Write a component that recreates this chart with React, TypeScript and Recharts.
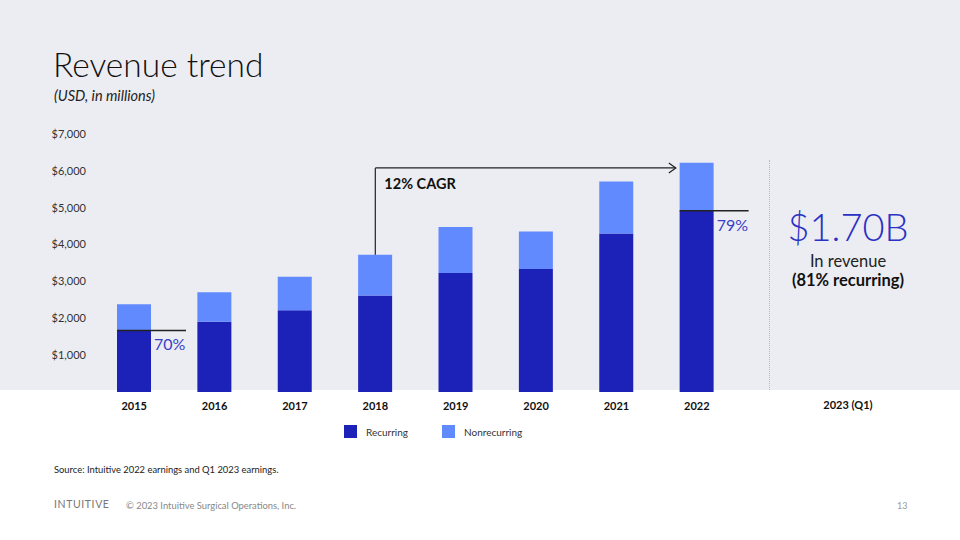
import { Bar, BarChart, LabelList, ReferenceLine, XAxis, YAxis } from 'recharts';

const years = ['2015', '2016', '2017', '2018', '2019', '2020', '2021', '2022'];
const recurring = [1669, 1906, 2217, 2620, 3230, 3340, 4300, 4915];
const nonrecurring = [715, 798, 912, 1104, 1249, 1018, 1410, 1307];
const shareLabels = ['70%', '', '', '', '', '', '', '79%'];
const yTicks = [1000, 2000, 3000, 4000, 5000, 6000, 7000];

const cagrFrom = '2018';
const cagrTo = '2022';
const cagrLevel = 6080;
const cagrText = '12% CAGR';

const data = years.map((year, i) => ({
  year,
  recurring: recurring[i],
  nonrecurring: nonrecurring[i],
  total: recurring[i] + nonrecurring[i],
  share: shareLabels[i],
}));

const DARK = '#1c22b8';
const LIGHT = '#628aff';
const ACCENT = '#3a3fc8';
const FONT = 'Lato, "Noto Sans", sans-serif';
const BAR = 34;

// line over top of recurring segment + percentage text
const ShareMark = (props: any) => {
  const { x, y, width, value } = props;
  if (!value) return null;
  return (
    <g>
      <line x1={x} x2={x + width + 35} y1={y} y2={y} stroke="#222" strokeWidth={1.5} />
      <text x={x + width + 3} y={y + 20} fill={ACCENT} fontSize={16} fontFamily={FONT}>
        {value}
      </text>
    </g>
  );
};

const CagrArrow = (props: any) => {
  const { x1, y1, x2 } = props;
  const tip = x2 - BAR / 2 - 4;
  return (
    <g>
      <line x1={x1} x2={tip} y1={y1} y2={y1} stroke="#222" strokeWidth={1.2} />
      <path d={`M${tip - 7},${y1 - 5} L${tip},${y1} L${tip - 7},${y1 + 5}`} fill="none" stroke="#222" strokeWidth={1.2} />
      <text x={x1 + 9} y={y1 + 21} fontSize={14.5} fontWeight={700} fill="#111" fontFamily={FONT}>
        {cagrText}
      </text>
    </g>
  );
};

export default function App() {
  const fromTotal = data.find(d => d.year === cagrFrom)!.total;
  return (
    <div
      style={{
        position: 'absolute',
        left: 0,
        top: 0,
        width: 960,
        height: 540,
        background: '#fff',
        fontFamily: FONT,
        overflow: 'hidden',
      }}
    >
      <div style={{ position: 'absolute', left: 0, top: 0, width: 960, height: 390, background: '#ecedf2' }} />
      <div style={{ position: 'absolute', left: 53, top: 44, fontSize: 33.5, fontWeight: 300, color: '#111' }}>
        Revenue trend
      </div>
      <div style={{ position: 'absolute', left: 54, top: 87, fontSize: 14.5, fontStyle: 'italic', color: '#222' }}>
        (USD, in millions)
      </div>

      <div style={{ position: 'absolute', left: 0, top: 0 }}>
        <BarChart
          width={960}
          height={540}
          data={data}
          margin={{ top: 134, right: 223, bottom: 118, left: 34 }}
          barSize={BAR}
        >
          <XAxis
            dataKey="year"
            axisLine={false}
            tickLine={false}
            interval={0}
            height={30}
            tickMargin={4}
            tick={{ fontSize: 11, fontWeight: 700, fill: '#111', fontFamily: FONT }}
          />
          <YAxis
            width={60}
            domain={[0, 7000]}
            ticks={yTicks}
            axisLine={false}
            tickLine={false}
            tick={{ fontSize: 11, fill: '#333', fontFamily: FONT }}
            tickFormatter={v => `$${v.toLocaleString('en-US')}`}
          />
          <Bar dataKey="recurring" stackId="a" fill={DARK} isAnimationActive={false}>
            <LabelList dataKey="share" content={ShareMark} />
          </Bar>
          <Bar dataKey="nonrecurring" stackId="a" fill={LIGHT} isAnimationActive={false} />
          <ReferenceLine
            segment={[
              { x: cagrFrom, y: fromTotal },
              { x: cagrFrom, y: cagrLevel },
            ]}
            stroke="#222"
            strokeWidth={1.2}
          />
          <ReferenceLine
            segment={[
              { x: cagrFrom, y: cagrLevel },
              { x: cagrTo, y: cagrLevel },
            ]}
            shape={CagrArrow}
          />
        </BarChart>
      </div>

      {/* Q1 2023 panel */}
      <div style={{ position: 'absolute', left: 769, top: 160, height: 230, borderLeft: '1px dotted #b8b8c0' }} />
      <div style={{ position: 'absolute', left: 770, width: 156, top: 203, textAlign: 'center', color: '#2a31c4', fontSize: 38, fontWeight: 300 }}>
        $1.70B
      </div>
      <div style={{ position: 'absolute', left: 770, width: 156, top: 251, textAlign: 'center', color: '#222', fontSize: 16.5 }}>
        In revenue
      </div>
      <div style={{ position: 'absolute', left: 770, width: 156, top: 270, textAlign: 'center', color: '#111', fontSize: 16.5, fontWeight: 700 }}>
        (81% recurring)
      </div>
      <div style={{ position: 'absolute', left: 770, width: 156, top: 398, textAlign: 'center', color: '#111', fontSize: 11, fontWeight: 700 }}>
        2023 (Q1)
      </div>

      {/* legend */}
      <div style={{ position: 'absolute', left: 344, top: 425, display: 'flex', alignItems: 'center', fontSize: 10, color: '#333' }}>
        <span style={{ width: 13, height: 13, background: DARK, display: 'inline-block' }} />
        <span style={{ marginLeft: 9 }}>Recurring</span>
        <span style={{ width: 13, height: 13, background: LIGHT, display: 'inline-block', marginLeft: 34 }} />
        <span style={{ marginLeft: 9 }}>Nonrecurring</span>
      </div>

      <div style={{ position: 'absolute', left: 54, top: 464, fontSize: 9.4, color: '#222' }}>
        Source: Intuitive 2022 earnings and Q1 2023 earnings.
      </div>
      <div style={{ position: 'absolute', left: 54, top: 498, fontSize: 10.5, color: '#777', letterSpacing: 0.6 }}>
        INTUITIVE
      </div>
      <div style={{ position: 'absolute', left: 126, top: 500, fontSize: 9.4, color: '#888' }}>
        © 2023 Intuitive Surgical Operations, Inc.
      </div>
      <div style={{ position: 'absolute', left: 897, top: 500, fontSize: 9, color: '#999' }}>13</div>
    </div>
  );
}
